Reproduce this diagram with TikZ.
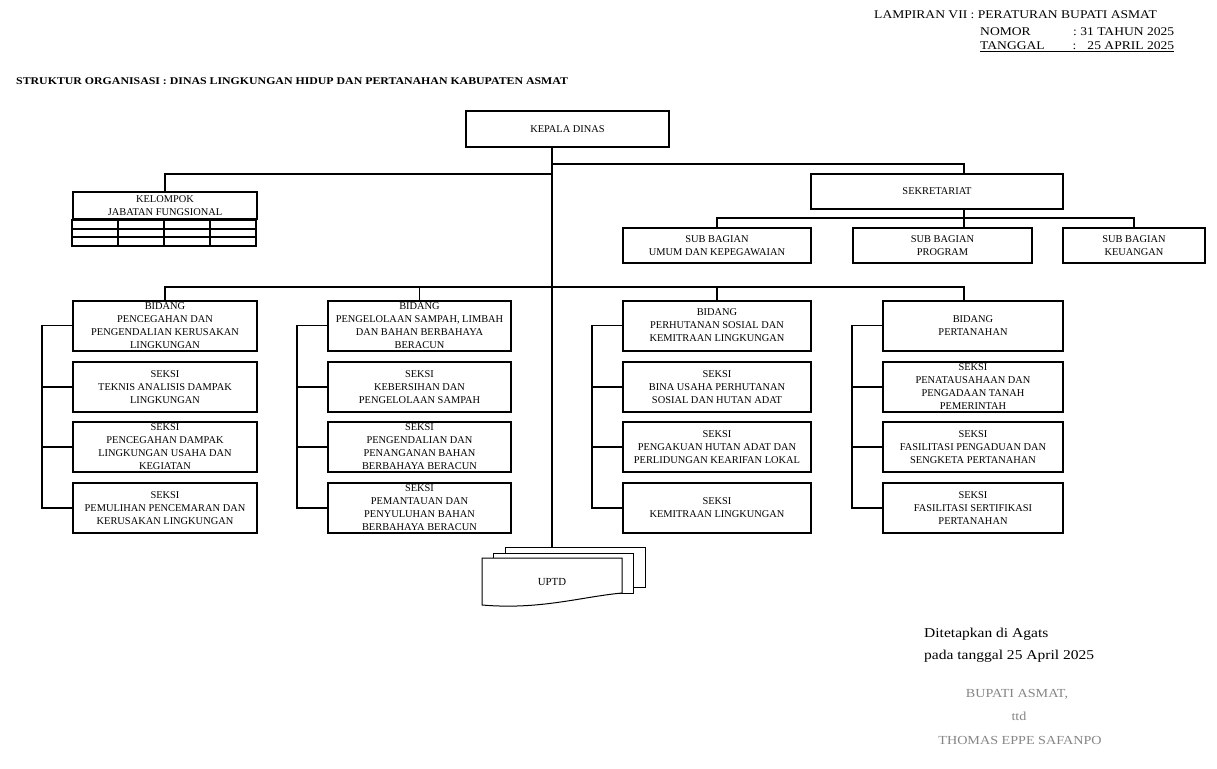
\documentclass[tikz,border=0pt]{standalone}
\usepackage{fontspec}
\setmainfont{Liberation Serif}
\newfontfamily\lebar{Liberation Serif}[FakeStretch=1.15]
\usepackage{xcolor}
\usepackage{tikz}

\definecolor{abu}{HTML}{858585}

\tikzset{
  kotak/.style={draw, line width=2pt, align=center, inner sep=0pt, font=\fontsize{10.4}{13}\selectfont},
  bidang/.style={kotak, minimum height=50pt},
  garis/.style={line width=1.4pt},
  lembar/.style={draw, line width=1pt, fill=white},
  teks/.style={anchor=base west, inner sep=0pt},
  kepalateks/.style={teks, font=\lebar\fontsize{11.8}{14}\selectfont},
  tandateks/.style={anchor=base, inner sep=0pt, text=abu, font=\lebar\fontsize{12.3}{14}\selectfont}
}

\begin{document}
\begin{tikzpicture}[x=1pt, y=-1pt]
  \useasboundingbox (0,0) rectangle (1217,768);

  \node[kepalateks] (lampiran) at (874,19) {LAMPIRAN VII : PERATURAN BUPATI ASMAT};
  \node[kepalateks] (nomor) at (980,35.5) {\makebox[194pt][l]{NOMOR\hfill: 31 TAHUN 2025}};
  \node[kepalateks] (tanggal) at (980,50) {\underline{\makebox[194pt][l]{TANGGAL\hfill:\hspace{11pt}25 APRIL 2025}}};
  \node[teks, font=\lebar\bfseries\fontsize{10.3}{12}\selectfont] (judul) at (16,84) {STRUKTUR ORGANISASI : DINAS LINGKUNGAN HIDUP DAN PERTANAHAN KABUPATEN ASMAT};

  \node[kotak, minimum width=203pt, minimum height=36pt] (kadis) at (567.5,129) {KEPALA DINAS};
  \node[kotak, minimum width=252pt, minimum height=35pt] (sekr) at (937,191.5) {SEKRETARIAT};
  \node[kotak, minimum width=188pt, minimum height=35pt] (umum) at (717,245.5) {SUB BAGIAN\\UMUM DAN KEPEGAWAIAN};
  \node[kotak, minimum width=179pt, minimum height=35pt] (prog) at (942.5,245.5) {SUB BAGIAN\\PROGRAM};
  \node[kotak, minimum width=142pt, minimum height=35pt] (keu) at (1134,245.5) {SUB BAGIAN\\KEUANGAN};

  \node[kotak, minimum width=184pt, minimum height=27pt] (jf) at (165,205.5) {KELOMPOK\\JABATAN FUNGSIONAL};
  \draw[line width=2pt] (jf.south west) rectangle ++(184,26);
  \foreach \y in {9,17}
    \draw[line width=1.6pt] (jf.south west) ++(0,\y) -- ++(184,0);
  \foreach \x in {46,92,138}
    \draw[line width=1.6pt] (jf.south west) ++(\x,0) -- ++(0,26);

  \node[bidang, minimum width=184pt] (b1) at (165,325.5) {BIDANG\\PENCEGAHAN DAN\\PENGENDALIAN KERUSAKAN\\LINGKUNGAN};
  \node[bidang, minimum width=184pt] (s11) at (165,387) {SEKSI\\TEKNIS ANALISIS DAMPAK\\LINGKUNGAN};
  \node[bidang, minimum width=184pt] (s12) at (165,447) {SEKSI\\PENCEGAHAN DAMPAK\\LINGKUNGAN USAHA DAN\\KEGIATAN};
  \node[bidang, minimum width=184pt] (s13) at (165,508) {SEKSI\\PEMULIHAN PENCEMARAN DAN\\KERUSAKAN LINGKUNGAN};

  \node[bidang, minimum width=183pt] (b2) at (419.5,325.5) {BIDANG\\PENGELOLAAN SAMPAH, LIMBAH\\DAN BAHAN BERBAHAYA\\BERACUN};
  \node[bidang, minimum width=183pt] (s21) at (419.5,387) {SEKSI\\KEBERSIHAN DAN\\PENGELOLAAN SAMPAH};
  \node[bidang, minimum width=183pt] (s22) at (419.5,447) {SEKSI\\PENGENDALIAN DAN\\PENANGANAN BAHAN\\BERBAHAYA BERACUN};
  \node[bidang, minimum width=183pt] (s23) at (419.5,508) {SEKSI\\PEMANTAUAN DAN\\PENYULUHAN BAHAN\\BERBAHAYA BERACUN};

  \node[bidang, minimum width=188pt] (b3) at (717,325.5) {BIDANG\\PERHUTANAN SOSIAL DAN\\KEMITRAAN LINGKUNGAN};
  \node[bidang, minimum width=188pt] (s31) at (717,387) {SEKSI\\BINA USAHA PERHUTANAN\\SOSIAL DAN HUTAN ADAT};
  \node[bidang, minimum width=188pt] (s32) at (717,447) {SEKSI\\PENGAKUAN HUTAN ADAT DAN\\PERLIDUNGAN KEARIFAN LOKAL};
  \node[bidang, minimum width=188pt] (s33) at (717,508) {SEKSI\\KEMITRAAN LINGKUNGAN};

  \node[bidang, minimum width=180pt] (b4) at (973,325.5) {BIDANG\\PERTANAHAN};
  \node[bidang, minimum width=180pt] (s41) at (973,387) {SEKSI\\PENATAUSAHAAN DAN\\PENGADAAN TANAH\\PEMERINTAH};
  \node[bidang, minimum width=180pt] (s42) at (973,447) {SEKSI\\FASILITASI PENGADUAN DAN\\SENGKETA PERTANAHAN};
  \node[bidang, minimum width=180pt] (s43) at (973,508) {SEKSI\\FASILITASI SERTIFIKASI\\PERTANAHAN};

  \node[lembar, minimum width=140pt, minimum height=40pt] (u3) at (575,567) {};
  \node[lembar, minimum width=140pt, minimum height=40pt] (u2) at (563,573) {};
  \draw[lembar] (482,558) -- (622,558) -- (622,593) .. controls (580,597) and (540,610) .. (482,605) -- cycle;
  \node[font=\fontsize{10.8}{13}\selectfont] (uptd) at (552,582) {UPTD};

  \coordinate (tulang) at (552,0);
  \coordinate (x4) at (964,0);
  \coordinate (t1) at (552,164);
  \coordinate (t2) at (552,174);
  \coordinate (t3) at (552,287);

  \draw[garis] (kadis.south -| tulang) -- (u3.north -| tulang);
  \draw[garis] (t1) -| (sekr.north -| x4);
  \draw[garis] (t2) -| (jf.north);
  \draw[garis] (sekr.south -| x4) -- (prog.north -| x4);
  \draw[garis] (umum.north) -- ++(0,-9) -| (keu.north);
  \draw[garis] (t3) -| (b1.north);
  \draw[garis] (t3) -| (b4.north -| x4);
  \draw[garis] (b2.north) -- (b2.north |- t3);
  \draw[garis] (b3.north) -- (b3.north |- t3);
  \foreach \k in {1,...,4} {
    \draw[garis] (b\k.west) -- ++(-30,0) |- (s\k3.west);
    \draw[garis] (s\k1.west) -- ++(-30,0);
    \draw[garis] (s\k2.west) -- ++(-30,0);
  }

  \node[teks, font=\lebar\fontsize{13.5}{15}\selectfont] (ditetapkan) at (924,637) {Ditetapkan di Agats};
  \node[teks, font=\lebar\fontsize{13.5}{15}\selectfont] (pada) at (924,659) {pada tanggal 25 April 2025};
  \node[tandateks] (bupati) at (1017,697) {BUPATI ASMAT,};
  \node[tandateks, font=\lebar\fontsize{12.3}{14}\selectfont] (ttd) at (1019,720) {ttd};
  \node[tandateks] (nama) at (1020,744) {THOMAS EPPE SAFANPO};
\end{tikzpicture}
\end{document}
